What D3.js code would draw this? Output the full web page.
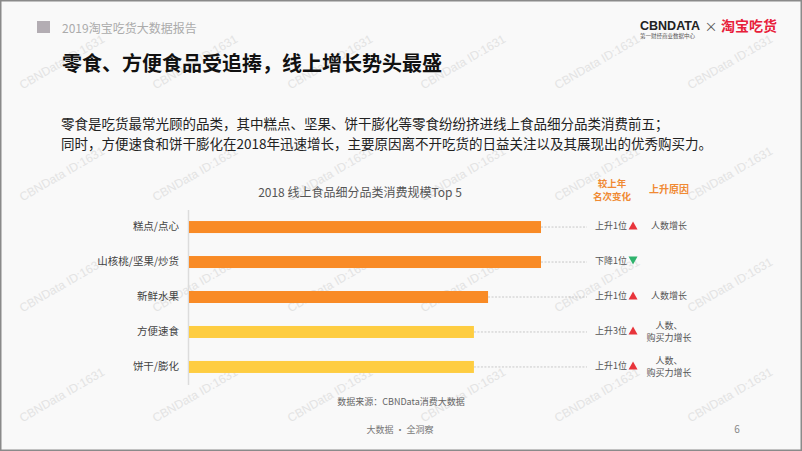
<!DOCTYPE html>
<html><head><meta charset="utf-8">
<script src="https://cdn.jsdelivr.net/npm/d3@7"></script>
<style>
html,body{margin:0;padding:0;background:#f9f9f9;}
svg{display:block;font-family:"Noto Sans CJK SC","Noto Sans",sans-serif;}
</style></head>
<body>
<svg id="c" width="802" height="451"></svg>
<script>
// ---- data ----
const categories = ["糕点/点心","山核桃/坚果/炒货","新鲜水果","方便速食","饼干/膨化"];
const values = [100, 100, 85, 81, 81]; // relative consumption scale (estimated)
const highlight = [true, true, true, false, false]; // orange vs yellow bars
const rankChange = ["上升1位","下降1位","上升1位","上升3位","上升1位"];
const direction = ["up","down","up","up","up"];
const reasons = [["人数增长"], [], ["人数增长"], ["人数、","购买力增长"], ["人数、","购买力增长"]];
const paragraph = [
  "零食是吃货最常光顾的品类，其中糕点、坚果、饼干膨化等零食纷纷挤进线上食品细分品类消费前五；",
  "同时，方便速食和饼干膨化在2018年迅速增长，主要原因离不开吃货的日益关注以及其展现出的优秀购买力。"
];

const svg = d3.select("#c");
const W = 802, H = 451;
svg.append("rect").attr("x",0).attr("y",0).attr("width",W).attr("height",H).attr("fill","#f9f9f9");

// watermarks
const wmX = [62,195,330,463,597,730], wmY = [62,174,285,395];
const wm = svg.append("g");
wmY.forEach(y => wmX.forEach(x => {
  wm.append("text").attr("transform",`translate(${x},${y}) rotate(-30)`)
    .attr("text-anchor","middle").attr("dominant-baseline","central")
    .attr("font-size",12).attr("fill","#e3e3e3").attr("font-family","Liberation Sans, Arial, sans-serif")
    .text("CBNData ID:1631");
}));

// header
svg.append("rect").attr("x",37).attr("y",21).attr("width",13).attr("height",12).attr("fill","#b3adb3");
svg.append("text").attr("x",62).attr("y",27).attr("dominant-baseline","central")
  .attr("font-size",12).attr("fill","#ababab").text("2019淘宝吃货大数据报告");
svg.append("text").attr("x",62).attr("y",62).attr("dominant-baseline","central")
  .attr("font-size",20).attr("font-weight","bold").attr("fill","#111").text("零食、方便食品受追捧，线上增长势头最盛");

// logo
svg.append("text").attr("x",640).attr("y",30)
  .attr("font-size",13).attr("font-weight","bold").attr("fill","#222")
  .attr("font-family","Liberation Sans, Arial, sans-serif")
  .attr("textLength",60).attr("lengthAdjust","spacingAndGlyphs").text("CBNDATA");
svg.append("text").attr("x",640).attr("y",36).attr("dominant-baseline","central")
  .attr("font-size",5.5).attr("fill","#555").text("第一财经商业数据中心");
svg.append("text").attr("x",711).attr("y",25).attr("dominant-baseline","central").attr("text-anchor","middle")
  .attr("font-size",13).attr("fill","#555").text("×");
svg.append("text").attr("x",721).attr("y",25).attr("dominant-baseline","central")
  .attr("font-size",14).attr("font-weight","bold").attr("fill","#e8203a").text("淘宝吃货");

// paragraph
paragraph.forEach((t,i) => {
  svg.append("text").attr("x",61).attr("y",123 + i*20).attr("dominant-baseline","central")
    .attr("font-size",13.5).attr("fill","#222").text(t);
});

// chart
const x = d3.scaleLinear().domain([0,100]).range([188,541]);
const y = d3.scaleBand().domain(categories).range([209.5,384.5]).paddingInner(0.657).paddingOuter(0.33);
const bh = y.bandwidth();

svg.append("text").attr("x",360).attr("y",191).attr("text-anchor","middle").attr("dominant-baseline","central")
  .attr("font-size",12).attr("fill","#555").text("2018 线上食品细分品类消费规模Top 5");

// y axis
const yAxis = d3.axisLeft(y).tickSize(0).tickPadding(9);
const ga = svg.append("g").attr("transform","translate(188,0)").call(yAxis);
ga.select(".domain").attr("stroke","#dcdcdc").attr("stroke-width",1.5);
ga.selectAll("text").attr("font-size",10.5).attr("fill","#444")
  .attr("font-family","Noto Sans CJK SC, sans-serif");

const cy = d => y(d) + bh/2;

// dashed leaders
svg.append("g").selectAll("line").data(categories).join("line")
  .attr("x1",(d,i)=>x(values[i])).attr("x2",587)
  .attr("y1",d=>cy(d)).attr("y2",d=>cy(d))
  .attr("stroke","#bdbdbd").attr("stroke-width",0.8).attr("stroke-dasharray","2,1.5");

// bars
svg.append("g").selectAll("rect").data(categories).join("rect")
  .attr("x",x(0)+1).attr("y",d=>y(d))
  .attr("width",(d,i)=>x(values[i])-x(0)-1).attr("height",bh)
  .attr("fill",(d,i)=>highlight[i] ? "#f98b26" : "#fecd41");

// column headers
const orange = "#f08a33";
svg.append("text").attr("x",612).attr("y",182.5).attr("text-anchor","middle").attr("dominant-baseline","central")
  .attr("font-size",9.5).attr("font-weight","bold").attr("fill",orange).text("较上年");
svg.append("text").attr("x",612).attr("y",195.5).attr("text-anchor","middle").attr("dominant-baseline","central")
  .attr("font-size",9.5).attr("font-weight","bold").attr("fill",orange).text("名次变化");
svg.append("text").attr("x",669).attr("y",188).attr("text-anchor","middle").attr("dominant-baseline","central")
  .attr("font-size",10).attr("font-weight","bold").attr("fill",orange).text("上升原因");

// rank change
categories.forEach((c,i) => {
  const yy = cy(c) - 1.5;
  svg.append("text").attr("x",627).attr("y",yy).attr("text-anchor","end").attr("dominant-baseline","central")
    .attr("font-size",9).attr("fill","#555").text(rankChange[i]);
  const tx = 633;
  const pts = direction[i] === "up"
    ? [[tx-4.5,yy+4],[tx+4.5,yy+4],[tx,yy-4]]
    : [[tx-4.5,yy-4],[tx+4.5,yy-4],[tx,yy+4]];
  svg.append("polygon").attr("points",pts.map(p=>p.join(",")).join(" "))
    .attr("fill",direction[i] === "up" ? "#e8343b" : "#2fb36d");
  const r = reasons[i];
  r.forEach((t,j) => {
    const off = r.length === 1 ? -1.5 : (j === 0 ? -6 : 5.5);
    svg.append("text").attr("x",669).attr("y",cy(c)+off).attr("text-anchor","middle").attr("dominant-baseline","central")
      .attr("font-size",9).attr("fill","#555").text(t);
  });
});

// source & footer
svg.append("text").attr("x",401).attr("y",401).attr("text-anchor","middle").attr("dominant-baseline","central")
  .attr("font-size",9).attr("fill","#666").text("数据来源：CBNData消费大数据");
svg.append("text").attr("x",400).attr("y",429).attr("text-anchor","middle").attr("dominant-baseline","central")
  .attr("font-size",9).attr("fill","#777").text("大数据 · 全洞察");
svg.append("text").attr("x",737).attr("y",428).attr("text-anchor","middle").attr("dominant-baseline","central")
  .attr("font-size",10).attr("fill","#888").text("6");

// frame
svg.append("rect").attr("x",0.75).attr("y",0.75).attr("width",W-1.5).attr("height",H-1.5)
  .attr("fill","none").attr("stroke","#8a8a8a").attr("stroke-width",1.5);
</script>
</body></html>
